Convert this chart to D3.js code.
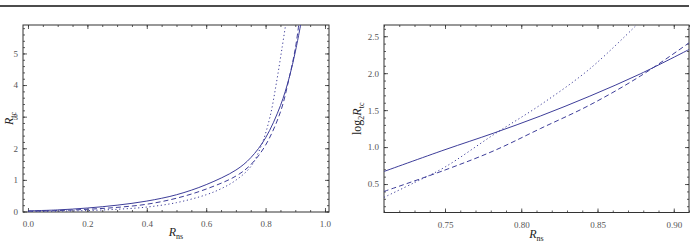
<!DOCTYPE html>
<html>
<head>
<meta charset="utf-8">
<script src="https://cdn.jsdelivr.net/npm/d3@7"></script>
<style>
  body { margin: 0; background: #fff; }
  svg { display: block; font-family: "Liberation Serif", "Times New Roman", serif; }
</style>
</head>
<body>
<svg id="chart" width="692" height="244"></svg>
<script>
// Left panel: R_tc against R_ns
var leftSolid = [[0, 0.02], [0.1, 0.05], [0.2, 0.11], [0.3, 0.2], [0.4, 0.33], [0.5, 0.53], [0.6, 0.85],
    [0.7, 1.31], [0.75, 1.7], [0.8, 2.33], [0.85, 3.35], [0.88, 4.25], [0.9, 5.05], [0.92, 6.0]];
var leftDashed = [[0, 0.01], [0.1, 0.03], [0.2, 0.07], [0.3, 0.13], [0.4, 0.23], [0.5, 0.42], [0.6, 0.71],
    [0.7, 1.12], [0.75, 1.48], [0.8, 2.1], [0.85, 3.15], [0.88, 4.25], [0.9, 5.15], [0.913, 6.0]];
var leftDotted = [[0, 0.0], [0.1, 0.01], [0.2, 0.03], [0.3, 0.07], [0.4, 0.14], [0.5, 0.28], [0.6, 0.53],
    [0.65, 0.72], [0.7, 0.99], [0.75, 1.42], [0.787, 2.12], [0.815, 3.0], [0.837, 4.1], [0.855, 5.15], [0.869, 6.0]];
var leftXTicks = [0, 0.2, 0.4, 0.6, 0.8, 1.0];
var leftYTicks = [0, 1, 2, 3, 4, 5];

// Right panel: log2 R_tc against R_ns
var rightSolid = [[0.71, 0.67], [0.75, 0.965], [0.782, 1.19], [0.8125, 1.42], [0.845, 1.69], [0.878, 1.99], [0.91, 2.32]];
var rightDashed = [[0.71, 0.4], [0.75, 0.69], [0.782, 0.95], [0.8125, 1.25], [0.845, 1.57], [0.878, 1.96], [0.91, 2.41]];
var rightDotted = [[0.71, 0.32], [0.73, 0.52], [0.75, 0.73], [0.782, 1.17], [0.8125, 1.57], [0.845, 2.06], [0.876, 2.66]];
var rightXTicks = [0.75, 0.80, 0.85, 0.90];
var rightYTicks = [0.5, 1.0, 1.5, 2.0, 2.5];

var lineColor = "#3d3d99";
var serif = "'Liberation Serif', 'Times New Roman', serif";
var svg = d3.select("#chart");

// rule across the top
svg.append("line")
    .attr("x1", 0).attr("x2", 689).attr("y1", 6).attr("y2", 6)
    .attr("stroke", "#111").attr("stroke-width", 1.5);

function drawPanel(p)
{
    var x = d3.scaleLinear().domain(p.xDomain).range([p.left, p.right]);
    var y = d3.scaleLinear().domain(p.yDomain).range([p.bottom, p.top]);
    var g = svg.append("g");

    g.append("clipPath").attr("id", p.id + "clip")
        .append("rect")
        .attr("x", p.left).attr("y", p.top)
        .attr("width", p.right - p.left).attr("height", p.bottom - p.top);

    // minor ticks on all four sides
    var minorX = d3.range(p.xMinor[0], p.xMinor[1] + 1e-9, p.xMinor[2]);
    var minorY = d3.range(p.yMinor[0], p.yMinor[1] + 1e-9, p.yMinor[2]);
    g.append("g").attr("transform", "translate(0," + p.bottom + ")")
        .call(d3.axisBottom(x).tickValues(minorX).tickSize(-2).tickFormat(""));
    g.append("g").attr("transform", "translate(0," + p.top + ")")
        .call(d3.axisTop(x).tickValues(minorX).tickSize(-2).tickFormat(""));
    g.append("g").attr("transform", "translate(" + p.left + ",0)")
        .call(d3.axisLeft(y).tickValues(minorY).tickSize(-2).tickFormat(""));
    g.append("g").attr("transform", "translate(" + p.right + ",0)")
        .call(d3.axisRight(y).tickValues(minorY).tickSize(-2).tickFormat(""));

    // major ticks, labelled on bottom and left
    g.append("g").attr("transform", "translate(0," + p.bottom + ")")
        .call(d3.axisBottom(x).tickValues(p.xTicks).tickSize(-4).tickPadding(9).tickFormat(d3.format(p.xFormat)));
    g.append("g").attr("transform", "translate(0," + p.top + ")")
        .call(d3.axisTop(x).tickValues(p.xTicks).tickSize(-4).tickFormat(""));
    g.append("g").attr("transform", "translate(" + p.left + ",0)")
        .call(d3.axisLeft(y).tickValues(p.yTicks).tickSize(-4).tickPadding(p.yPad).tickFormat(d3.format(p.yFormat)));
    g.append("g").attr("transform", "translate(" + p.right + ",0)")
        .call(d3.axisRight(y).tickValues(p.yTicks).tickSize(-4).tickFormat(""));

    g.selectAll(".domain").remove();
    g.selectAll(".tick line").attr("stroke", "#333").attr("stroke-width", 0.8);
    g.selectAll(".tick text")
        .attr("font-family", serif)
        .attr("font-size", 9)
        .attr("fill", "#555");

    // frame
    g.append("rect")
        .attr("x", p.left).attr("y", p.top)
        .attr("width", p.right - p.left).attr("height", p.bottom - p.top)
        .attr("fill", "none").attr("stroke", "#333").attr("stroke-width", 1);

    var line = d3.line()
        .x(function (d) {return x(d[0]);})
        .y(function (d) {return y(d[1]);})
        .curve(d3.curveCatmullRom.alpha(0.5));

    var series = [
        {data: p.solid, dash: null},
        {data: p.dashed, dash: "5,3"},
        {data: p.dotted, dash: "1.2,2.6"}
    ];
    g.append("g").attr("clip-path", "url(#" + p.id + "clip)")
        .selectAll("path")
        .data(series)
        .enter().append("path")
        .attr("d", function (d) {return line(d.data);})
        .attr("fill", "none")
        .attr("stroke", lineColor)
        .attr("stroke-width", 1)
        .attr("stroke-dasharray", function (d) {return d.dash;});

    // axis titles
    var xt = g.append("text")
        .attr("x", (p.left + p.right) / 2).attr("y", p.xTitleY)
        .attr("text-anchor", "middle").attr("font-size", 12).attr("fill", "#222");
    xt.append("tspan").attr("font-style", "italic").text("R");
    xt.append("tspan").attr("font-size", 8).attr("dy", 3).text("ns");

    var yt = g.append("text")
        .attr("transform", "translate(" + p.yTitleX + "," + (p.top + p.bottom) / 2 + ") rotate(-90)")
        .attr("text-anchor", "middle").attr("font-size", 12).attr("fill", "#222");
    if (p.logTitle)
    {
        yt.append("tspan").text("log");
        yt.append("tspan").attr("font-size", 8).attr("dy", 3).text("2");
        yt.append("tspan").attr("font-style", "italic").attr("dy", -3).text("R");
    } else
    {
        yt.append("tspan").attr("font-style", "italic").text("R");
    }
    yt.append("tspan").attr("font-size", 8).attr("dy", 3).text("tc");
}

drawPanel({
    id: "left", left: 23, right: 329, top: 25, bottom: 212,
    xDomain: [-0.0168, 1.0135], yDomain: [-0.016, 5.9],
    xTicks: leftXTicks, yTicks: leftYTicks, xFormat: ".1f", yFormat: "d",
    xMinor: [0, 1.0, 0.05], yMinor: [0, 5.8, 0.2], yPad: 5,
    solid: leftSolid, dashed: leftDashed, dotted: leftDotted,
    xTitleY: 236, yTitleX: 13, logTitle: false
});

drawPanel({
    id: "right", left: 384, right: 689, top: 25, bottom: 212.5,
    xDomain: [0.71, 0.91], yDomain: [0.115, 2.652],
    xTicks: rightXTicks, yTicks: rightYTicks, xFormat: ".2f", yFormat: ".1f",
    xMinor: [0.71, 0.91, 0.01], yMinor: [0.2, 2.6, 0.1], yPad: 5,
    solid: rightSolid, dashed: rightDashed, dotted: rightDotted,
    xTitleY: 238, yTitleX: 361, logTitle: true
});
</script>
</body>
</html>
